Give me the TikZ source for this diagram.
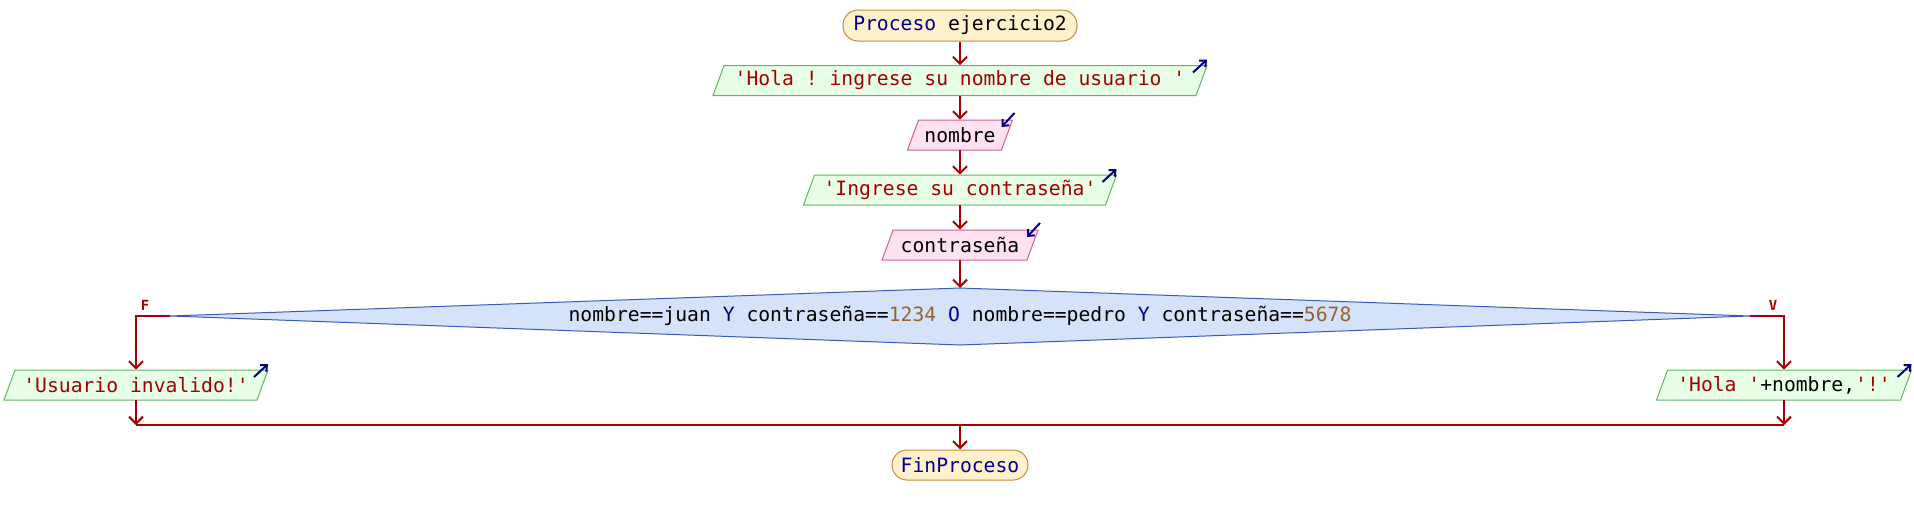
\documentclass[tikz,border=0pt]{standalone}
\usepackage{fontspec}
\usepackage{graphicx}
\setmonofont{DejaVu Sans Mono}
\usetikzlibrary{arrows.meta}
\definecolor{conncol}{RGB}{170,0,0}
\definecolor{iconcol}{RGB}{0,0,128}
\definecolor{kwcol}{RGB}{0,0,140}
\definecolor{strcol}{RGB}{165,0,0}
\definecolor{numcol}{RGB}{150,100,50}
\definecolor{termfill}{RGB}{255,241,204}
\definecolor{termdraw}{RGB}{190,140,60}
\definecolor{outfill}{RGB}{230,255,230}
\definecolor{outdraw}{RGB}{100,180,100}
\definecolor{infill}{RGB}{255,225,240}
\definecolor{indraw}{RGB}{200,100,150}
\definecolor{condfill}{RGB}{212,226,250}
\definecolor{conddraw}{RGB}{60,90,180}
\tikzset{
  txt/.style={inner sep=0pt, font=\fontsize{9.85}{11}\ttfamily},
  term/.style={txt, draw=termdraw, fill=termfill, line width=0.5pt, rounded corners=7.5pt, minimum height=15pt},
  conn/.style={draw=conncol, line width=1pt, -{Straight Barb[length=3.5pt,width=7pt]}},
  plain/.style={draw=conncol, line width=1pt},
  icon/.style={draw=iconcol, line width=1pt, -{Straight Barb[length=2.5pt,width=4.5pt]}},
  lbl/.style={inner sep=0pt, text=conncol, font=\fontsize{7}{8}\ttfamily\bfseries}
}
% name, cx, cy, w, fill, draw, text
\newcommand\iobox[7]{%
  \filldraw[fill=#5, draw=#6, line width=0.5pt] ({#2-#4/2-5.5},{#3+15}) -- ({#2+#4/2-5.5},{#3+15}) -- ({#2+#4/2+5.5},{#3-15}) -- ({#2-#4/2+5.5},{#3-15}) -- cycle;
  \node[txt, minimum width={#4*0.5pt}, minimum height=15pt] (#1) at (#2,#3) {#7};
}
\newcommand\outbox[5]{%
  \iobox{#1}{#2}{#3}{#4}{outfill}{outdraw}{#5}
  \draw[icon] ({#2+#4/2+5.5-14},{#3-15+7}) -- ({#2+#4/2+5.5},{#3-15-6});
}
\newcommand\inbox[5]{%
  \iobox{#1}{#2}{#3}{#4}{infill}{indraw}{#5}
  \draw[icon] ({#2+#4/2+5.5+2},{#3-15-7}) -- ({#2+#4/2+5.5-11},{#3-15+7});
}
\newcommand\kw[1]{\textcolor{kwcol}{#1}}
\newcommand\str[1]{\textcolor{strcol}{#1}}
\newcommand\num[1]{\textcolor{numcol}{#1}}
\begin{document}
\begin{tikzpicture}[x=0.5pt,y=-0.5pt]
\useasboundingbox (0,0) rectangle (1914,515);
% start
\node[term, minimum width=117pt, minimum height=15.5pt] (start) at (960,25.5) {\kw{Proceso} ejercicio2};
\outbox{out1}{960}{80.5}{483}{\str{'Hola ! ingrese su nombre de usuario '}}
\inbox{in1}{960}{135}{94}{nombre}
\outbox{out2}{960}{190}{302}{\str{'Ingrese su contrase\~na'}}
\inbox{in2}{960}{245}{145}{contrase\~na}
% condition
\coordinate (cN) at (960,288);
\coordinate (cS) at (960,345);
\coordinate (cW) at (170,316);
\coordinate (cE) at (1750,316);
\filldraw[fill=condfill, draw=conddraw, line width=0.5pt] (cN) -- (cE) -- (cS) -- (cW) -- cycle;
\node[txt] (cond) at (960,316) {nombre==juan \kw{Y} contrase\~na==\num{1234} \kw{O} nombre==pedro \kw{Y} contrase\~na==\num{5678}};
\node[lbl] (lf) at (145,305) {F};
\node[lbl] (lv) at (1773,305) {V};
\coordinate (fL) at (136,316);
\coordinate (fR) at (1784,316);
\outbox{out3}{136}{385}{253}{\str{'Usuario invalido!'}}
\outbox{out4}{1784}{385}{244}{\str{'Hola '}+nombre,\str{'!'}}
\coordinate (j1) at (136,425);
\coordinate (j2) at (1784,425);
\coordinate (jm) at (960,425);
\node[term, minimum width=68pt] (fin) at (960,465) {\kw{FinProceso}};
% connectors
\draw[conn] (start) -- (out1);
\draw[conn] (out1) -- (in1);
\draw[conn] (in1) -- (out2);
\draw[conn] (out2) -- (in2);
\draw[conn] (in2) -- (cN);
\draw[conn] (cW) -- (fL) -- (out3);
\draw[conn] (cE) -- (fR) -- (out4);
\draw[conn] (out3) -- (j1);
\draw[conn] (out4) -- (j2);
\draw[plain] (j1) -- (j2);
\draw[conn] (jm) -- (fin);
\end{tikzpicture}
\end{document}
